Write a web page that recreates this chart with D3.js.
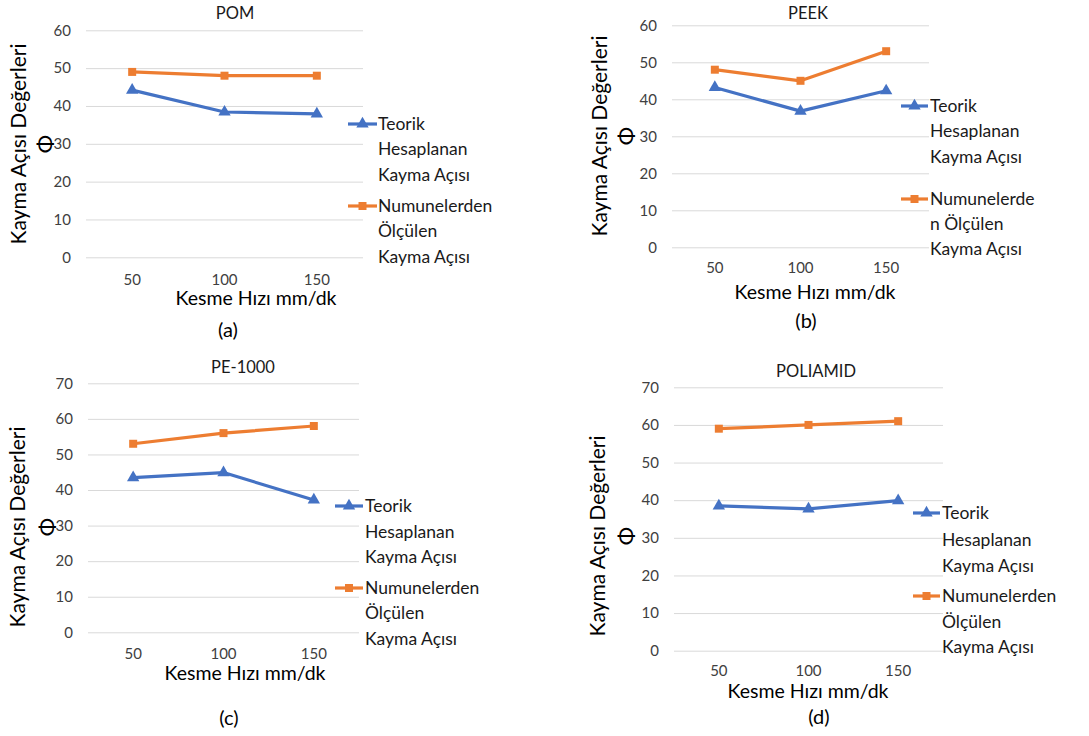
<!DOCTYPE html>
<html>
<head>
<meta charset="utf-8">
<script src="https://cdn.jsdelivr.net/npm/d3@7"></script>
<style>
  body { margin: 0; background: #fff; }
  text { font-family: Lato, "Open Sans", sans-serif; }
</style>
</head>
<body>
<div id="chart"></div>
<script>
// data
const categories = [50, 100, 150];
const seriesNames = ['Teorik Hesaplanan Kayma Açısı', 'Numunelerden Ölçülen Kayma Açısı'];
const panelTitles = ['POM', 'PEEK', 'PE-1000', 'POLIAMID'];
const panelLetters = ['(a)', '(b)', '(c)', '(d)'];
const pomTeorik = [44.2, 38.4, 37.9];
const pomOlculen = [49, 48, 48];
const peekTeorik = [43.2, 36.8, 42.3];
const peekOlculen = [48, 45, 53];
const peTeorik = [43.5, 44.9, 37.2];
const peOlculen = [53, 56, 58];
const paTeorik = [38.5, 37.7, 39.9];
const paOlculen = [59, 60, 61];
const yTicks60 = [0, 10, 20, 30, 40, 50, 60];
const yTicks70 = [0, 10, 20, 30, 40, 50, 60, 70];
const xTitle = 'Kesme Hızı mm/dk';
const yTitle = 'Kayma Açısı Değerleri';

const blue = '#4472C4', orange = '#ED7D31';

const W = 1089, H = 736;
const svg = d3.select('#chart').append('svg').attr('width', W).attr('height', H);

// layout of each panel (pixel positions)
const panels = [
  { teorik: pomTeorik, olculen: pomOlculen, ticks: yTicks60,
    x0: 86, x1: 363, yTop: 30.3, yBot: 257.3, title: [235, 13], xTickPad: 17,
    xT: [256, 298], sub: [228, 330], yT: [19, 144], phiX: 45,
    leg: { l0: 348, l1: 377, tx: 378, blue: [124, 149, 175], orange: [206, 231, 257] },
    legTexts: [['Teorik', 'Hesaplanan', 'Kayma Açısı'], ['Numunelerden', 'Ölçülen', 'Kayma Açısı']] },
  { teorik: peekTeorik, olculen: peekOlculen, ticks: yTicks60,
    x0: 672, x1: 929, yTop: 25.3, yBot: 247.3, title: [808, 13], xTickPad: 15,
    xT: [815, 292], sub: [806, 321], yT: [600, 136], phiX: 626,
    leg: { l0: 901, l1: 928, tx: 930, blue: [106, 131, 157], orange: [199, 224, 249] },
    legTexts: [['Teorik', 'Hesaplanan', 'Kayma Açısı'], ['Numunelerde', 'n Ölçülen', 'Kayma Açısı']] },
  { teorik: peTeorik, olculen: peOlculen, ticks: yTicks70,
    x0: 88, x1: 359, yTop: 383.3, yBot: 632.3, title: [243, 367], xTickPad: 16,
    xT: [245, 673], sub: [229, 718], yT: [18, 527], phiX: 47,
    leg: { l0: 335, l1: 363, tx: 365, blue: [506, 532, 557], orange: [588, 613, 639] },
    legTexts: [['Teorik', 'Hesaplanan', 'Kayma Açısı'], ['Numunelerden', 'Ölçülen', 'Kayma Açısı']] },
  { teorik: paTeorik, olculen: paOlculen, ticks: yTicks70,
    x0: 674, x1: 943, yTop: 387.3, yBot: 650.7, title: [816, 371], xTickPad: 15,
    xT: [808, 691], sub: [819, 717], yT: [598, 536], phiX: 626,
    leg: { l0: 913, l1: 940, tx: 942, blue: [513, 540, 566], orange: [596, 622, 647] },
    legTexts: [['Teorik', 'Hesaplanan', 'Kayma Açısı'], ['Numunelerden', 'Ölçülen', 'Kayma Açısı']] }
];

const tri = d3.symbol().type(d3.symbolTriangle).size(66);
const sq = d3.symbol().type(d3.symbolSquare).size(64);

panels.forEach((p, i) => {
  const g = svg.append('g');
  const x = d3.scaleBand().domain(categories).range([p.x0, p.x1]);
  const y = d3.scaleLinear().domain([0, d3.max(p.ticks)]).range([p.yBot, p.yTop]);
  const cx = d => x(d) + x.bandwidth() / 2;

  // gridlines + y tick labels
  const ya = g.append('g')
    .attr('transform', `translate(${p.x0},0)`)
    .call(d3.axisLeft(y).tickValues(p.ticks).tickSize(-(p.x1 - p.x0)).tickPadding(15));
  ya.select('.domain').remove();
  ya.selectAll('line').attr('stroke', '#D9D9D9').attr('stroke-width', 1);
  ya.selectAll('text').attr('fill', '#404040').style('font-size', '15px').style('font-family', 'Lato');

  // x tick labels
  const xa = g.append('g')
    .attr('transform', `translate(0,${p.yBot})`)
    .call(d3.axisBottom(x).tickSize(0).tickPadding(p.xTickPad));
  xa.select('.domain').remove();
  xa.selectAll('text').attr('fill', '#404040').style('font-size', '15px').style('font-family', 'Lato');

  // lines
  const line = d3.line().x((d, j) => cx(categories[j])).y(d => y(d));
  g.append('path').datum(p.teorik).attr('d', line)
    .attr('fill', 'none').attr('stroke', blue).attr('stroke-width', 3.2).attr('stroke-linejoin', 'round');
  g.append('path').datum(p.olculen).attr('d', line)
    .attr('fill', 'none').attr('stroke', orange).attr('stroke-width', 3.2).attr('stroke-linejoin', 'round');

  g.selectAll('.tri').data(p.teorik).join('path')
    .attr('d', tri).attr('fill', blue)
    .attr('transform', (d, j) => `translate(${cx(categories[j])},${y(d)})`);
  g.selectAll('.sq').data(p.olculen).join('path')
    .attr('d', sq).attr('fill', orange)
    .attr('transform', (d, j) => `translate(${cx(categories[j])},${y(d)})`);

  // title
  g.append('text').attr('x', p.title[0]).attr('y', p.title[1]).attr('dy', '0.35em')
    .attr('text-anchor', 'middle').attr('fill', '#1a1a1a').style('font-size', '16.5px')
    .text(panelTitles[i]);

  // axis titles
  g.append('text').attr('x', p.xT[0]).attr('y', p.xT[1]).attr('dy', '0.35em')
    .attr('text-anchor', 'middle').attr('fill', '#000').style('font-size', '19.5px')
    .text(xTitle);
  g.append('text').attr('transform', `translate(${p.yT[0]},${p.yT[1]}) rotate(-90)`)
    .attr('dy', '0.35em').attr('text-anchor', 'middle').attr('fill', '#000').style('font-size', '21px')
    .text(yTitle);
  g.append('text').attr('transform', `translate(${p.phiX},${p.yT[1]}) rotate(-90)`)
    .attr('dy', '0.35em').attr('text-anchor', 'middle').attr('fill', '#000').style('font-size', '22px')
    .text('Φ');

  // sub label
  g.append('text').attr('x', p.sub[0]).attr('y', p.sub[1]).attr('dy', '0.35em')
    .attr('text-anchor', 'middle').attr('fill', '#000').style('font-size', '20px')
    .text(panelLetters[i]);

  // legend
  [[blue, p.leg.blue, tri], [orange, p.leg.orange, sq]].forEach(([c, rows, sym], k) => {
    const ly = rows[0];
    g.append('line').attr('x1', p.leg.l0).attr('x2', p.leg.l1).attr('y1', ly).attr('y2', ly)
      .attr('stroke', c).attr('stroke-width', 3.2);
    g.append('path').attr('d', sym).attr('fill', c)
      .attr('transform', `translate(${(p.leg.l0 + p.leg.l1) / 2},${ly})`);
    rows.forEach((ry, r) => {
      g.append('text').attr('x', p.leg.tx).attr('y', ry).attr('dy', '0.35em')
        .attr('fill', '#1a1a1a').style('font-size', '17.5px')
        .text(p.legTexts[k][r]);
    });
  });
});
</script>
</body>
</html>
